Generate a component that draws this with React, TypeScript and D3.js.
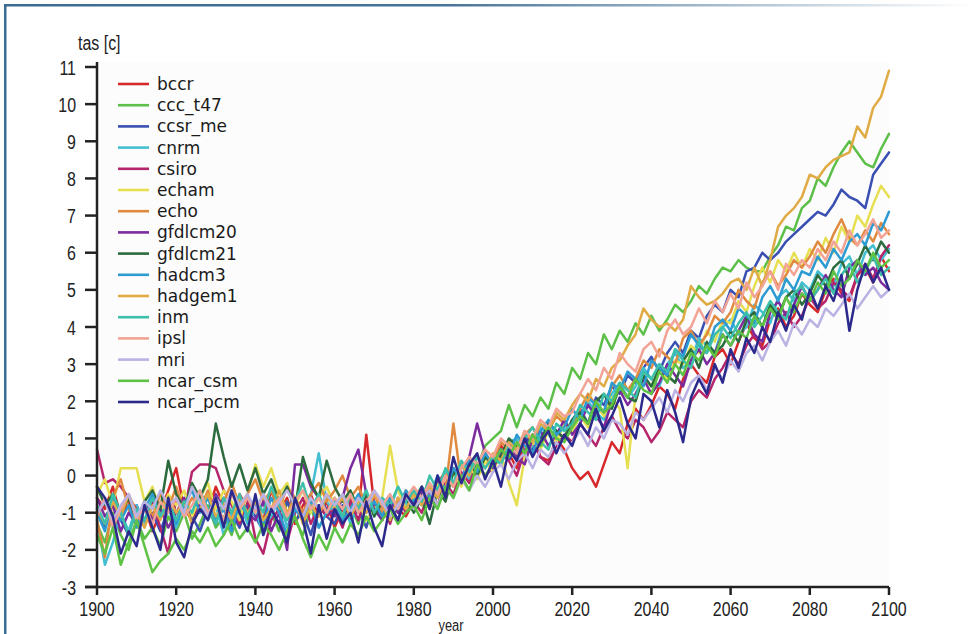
import React from 'react';
import * as d3 from 'd3';

// one value every 2 years, 1900..2100
const YEARS = d3.range(1900, 2101, 2);
const Y_TICKS = [-3, -2, -1, 0, 1, 2, 3, 4, 5, 6, 7, 8, 9, 10, 11];
const X_TICKS = [1900, 1920, 1940, 1960, 1980, 2000, 2020, 2040, 2060, 2080, 2100];

const bccr = [
  -0.6, -0.9, -0.3, -1.1, -0.7, -1.3, -0.8, -1.5, -1.0, -0.4,
  0.2, -0.9, -1.2, -0.6, -1.0, -0.3, -0.8, -1.1, -0.5, -0.9,
  -0.7, -1.2, -0.4, -1.0, -0.6, -1.3, -0.8, -0.5, -1.1, -0.7,
  -1.4, -0.9, -0.6, -1.0, 1.1, -0.8, -1.2, -0.6, -0.9, -1.1,
  -0.7, -0.4, -0.9, -0.2, 0.1, -0.3, 0.2, 0.4, 0.1, 0.6,
  0.3, 0.8, 0.6, 0.2, 0.9, 1.1, 0.5, 0.4, 1.0, 0.7,
  0.2, -0.1, 0.1, -0.3, 0.3, 0.9, 0.6, 1.4, 1.8, 1.5,
  1.9, 2.4, 2.2, 1.8, 2.6, 3.0, 2.7, 2.5, 3.2, 3.4,
  3.0, 3.6, 4.1, 3.7, 3.5, 4.2, 4.5, 4.0, 4.3, 4.9,
  4.6, 4.4, 5.0, 5.3, 4.9, 4.7, 5.4, 5.6, 5.2, 5.9,
  5.5,
];

const ccc_t47 = [
  -1.3, -1.8, -1.0, -1.6, -2.0, -1.2, -1.7, -1.4, -1.9, -1.1,
  -1.5, -1.0, -1.7, -1.3, -0.8, -1.4, -1.1, -1.6, -0.9, -1.2,
  -0.8, -1.3, -1.0, -1.5, -0.7, -1.2, -1.6, -0.9, -1.4, -1.0,
  -0.6, -1.1, -0.8, -1.3, -0.5, -0.9, -1.2, -0.7, -1.0, -0.6,
  -0.9, -0.5, -0.8, -0.2, -0.4, 0.1, -0.1, 0.4, 0.2, 0.8,
  1.0, 1.2, 1.9, 1.3, 1.9, 1.6, 2.1, 1.8, 2.5, 2.2,
  2.9, 2.6, 3.3, 3.0, 3.8, 3.4, 3.9, 3.6, 4.1, 3.8,
  4.3, 3.9, 4.2, 4.6, 4.4, 4.7, 5.1, 4.9, 5.3, 5.6,
  5.5, 5.8, 5.6, 5.5, 5.5, 5.9, 6.2, 6.7, 6.6, 7.2,
  7.4, 8.0, 7.8, 8.3, 8.7, 9.0, 8.7, 8.4, 8.3, 8.8,
  9.2,
];

const ccsr_me = [
  -0.9, -1.4, -0.7, -1.2, -1.6, -0.8, -1.3, -1.0, -1.5, -0.9,
  -1.2, -0.7, -1.1, -1.5, -0.9, -1.3, -0.6, -1.0, -1.4, -0.8,
  -1.1, -1.5, -0.9, -1.3, -0.7, -1.2, -1.0, -1.6, -0.8, -1.1,
  -1.3, -0.8, -1.2, -0.9, -1.4, -0.7, -1.1, -0.8, -1.2, -0.6,
  -0.9, -0.5, -0.7, -0.1, -0.4, 0.2, -0.2, 0.3, 0.0, 0.5,
  0.3, 0.7, 0.4, 0.8, 1.1, 0.7, 1.0, 1.4, 1.2, 1.0,
  1.5, 1.8, 1.4, 2.1, 1.9, 2.4, 2.2, 2.7, 2.5, 2.9,
  3.2, 2.8, 3.3, 3.6, 3.3, 3.9, 3.7, 4.3, 4.6, 4.4,
  5.0, 4.8, 5.5, 5.6, 6.0, 5.8, 6.0, 6.3, 6.5, 6.7,
  6.9, 7.1, 7.0, 7.3, 7.7, 7.5, 7.4, 7.2, 8.1, 8.4,
  8.7,
];

const cnrm = [
  -1.2, -2.4, -1.8, -1.0, -1.5, -0.8, -1.3, -0.6, -1.1, -0.9,
  -1.4, -0.7, -1.0, -0.5, -1.2, -0.8, -1.6, -1.0, -0.7, -1.3,
  -0.9, -1.6, -1.1, -0.6, -1.4, -0.8, -1.2, -0.5, 0.6, -0.7,
  -1.0, -0.6, -1.3, -0.8, -0.4, -1.1, -0.7, -0.9, -0.3, -0.8,
  -0.5, -0.8, -0.2, -0.6, 0.1, -0.3, 0.3, -0.1, 0.5, 0.2,
  0.5, 0.3, 0.9, 1.0, 0.6, 0.8, 1.3, 1.1, 0.9, 1.5,
  1.2, 1.6, 2.0, 1.7, 1.5, 2.2, 2.5, 2.1, 2.4, 2.9,
  2.6, 2.4, 3.0, 3.3, 2.9, 3.1, 3.7, 3.5, 3.3, 4.0,
  4.2, 3.8, 4.0, 4.6, 4.4, 4.1, 4.8, 5.0, 4.7, 5.2,
  5.0, 5.5, 5.3, 5.1, 5.7, 5.9, 5.4, 6.0, 6.2, 5.8,
  6.1,
];

const csiro = [
  0.7, -0.2, -0.1, -0.3, -0.6, -0.9, -1.2, -0.7, -1.4, -2.1,
  -0.6, -1.0, 0.1, 0.3, 0.3, 0.2, -0.4, -0.8, -1.3, -0.6,
  -1.7, -2.1, -1.2, -0.9, -1.8, -1.0, -0.6, -1.3, -0.8, -1.1,
  -0.9, -1.4, -0.7, -1.2, -0.5, -1.0, -0.8, -1.3, -0.6, -1.0,
  -0.7, -1.0, -0.4, -0.8, -0.2, -0.5, 0.1, -0.2, 0.3, 0.0,
  0.2, 0.6, 0.4, 0.0, 0.7, 0.9, 0.5, 0.3, 0.8, 1.1,
  0.9, 1.4, 1.1, 0.8, 1.3, 1.6, 1.2, 1.0, 1.5, 1.3,
  0.9, 1.2, 1.7, 1.5, 1.3, 2.0, 2.3, 2.1, 2.6, 2.9,
  3.3, 3.0, 3.5, 3.8, 3.4, 3.6, 4.1, 4.4, 4.0, 4.3,
  4.8, 4.5, 4.7, 5.2, 5.0, 4.8, 5.4, 5.7, 5.3, 5.9,
  6.2,
];

const echam = [
  -0.5, -0.1, -0.8, 0.2, 0.2, 0.2, -0.7, -0.3, -1.0, -0.5,
  -0.8, -0.4, -1.1, -0.6, -0.2, -0.9, -0.4, -0.7, -1.2, -0.5,
  0.3, -0.3, 0.2, -0.5, -0.2, -0.8, -0.4, -1.0, -0.6, -0.3,
  -0.8, -0.5, -1.0, -0.7, -1.2, -0.9, -0.6, 0.8, -0.4, -0.9,
  -0.6, -0.3, -0.8, -0.2, -0.5, 0.1, -0.3, 0.3, -0.1, 0.4,
  0.1, 0.6, -0.2, -0.8, 0.5, 0.9, 0.7, 1.2, 0.9, 1.4,
  1.2, 1.6, 1.3, 1.9, 1.6, 2.1, 1.8, 0.2, 2.2, 2.6,
  2.4, 2.9, 2.6, 3.1, 3.0, 3.5, 3.3, 3.9, 3.6, 4.2,
  4.1, 4.7, 4.4, 5.1, 5.6, 5.2, 5.8, 5.5, 6.0, 5.6,
  6.1, 5.8, 6.4, 6.0, 6.7, 6.3, 7.0, 6.7, 7.3, 7.8,
  7.5,
];

const echo = [
  -1.2, -2.2, -0.6, -0.1, -0.9, -1.4, -0.7, -1.1, -0.5, -0.9,
  -0.3, -1.0, -0.6, -0.9, -0.4, -1.2, -0.7, -0.2, -0.8, -0.5,
  -0.1, -0.7, -0.4, -0.9, -0.3, -0.6, -1.0, -0.5, -0.2, -0.7,
  -0.4, 0.0, -0.6, -0.3, -0.8, -0.5, -1.0, -0.6, -0.9, -0.4,
  -0.7, -0.3, -0.6, -0.1, -0.4, 1.4, -0.2, 0.3, 0.1, 0.5,
  0.4, 0.9, 0.7, 0.5, 1.1, 1.3, 0.9, 1.2, 1.6, 1.4,
  1.3, 1.8, 2.2, 1.9, 1.7, 2.4, 2.7, 2.3, 2.6, 3.1,
  2.9, 3.4, 3.2, 3.0, 3.7, 3.9, 3.5, 3.8, 4.3, 4.1,
  4.4, 5.0, 4.7, 4.5, 5.2, 5.5, 5.1, 5.4, 5.8, 5.6,
  5.9, 6.3, 6.0, 6.5, 6.9, 6.4, 6.2, 6.6, 6.3, 6.8,
  6.5,
];

const gfdlcm20 = [
  -0.6, -1.1, -0.8, -1.5, -1.0, -1.3, -0.7, -1.2, -0.9, -1.4,
  -1.0, -0.6, -1.3, -0.8, -1.1, -0.5, -0.9, -1.4, -0.7, -1.0,
  -1.2, -0.7, -1.5, -1.0, -2.0, 0.3, 0.3, -0.3, -0.6, -0.9,
  -1.1, -0.6, 0.2, 0.7, -0.5, -0.9, -1.2, -0.7, -1.0, -0.6,
  -0.8, -0.4, -0.7, -0.1, -0.5, 0.2, -0.2, 0.5, 1.4, 0.6,
  0.2, 0.6, 0.9, 0.5, 0.3, 1.0, 1.2, 0.8, 1.1, 1.5,
  1.1, 1.4, 1.9, 1.6, 1.3, 2.0, 2.3, 1.9, 2.2, 2.6,
  2.2, 2.5, 3.0, 2.7, 2.4, 3.1, 3.4, 3.0, 3.3, 3.8,
  3.5, 3.9, 4.3, 3.8, 3.6, 4.4, 4.7, 4.3, 4.6, 5.1,
  4.7, 5.0, 5.4, 5.0, 4.8, 5.6, 5.8, 5.4, 5.6, 5.2,
  5.0,
];

const gfdlcm21 = [
  -0.3, -0.8, -0.5, -1.0, -0.6, -1.2, -0.7, -0.4, -0.9, 0.4,
  -0.5, -0.9, -0.2, -0.6, -0.1, 1.4, 0.5, -0.3, 0.3, -0.4,
  0.2, -0.5, -0.1, -0.7, -0.3, -0.9, 0.5, -0.2, -0.6, 0.4,
  -0.3, -0.7, -0.4, -0.9, -0.5, -1.1, -0.7, -1.2, -0.8, -0.6,
  -1.0, -0.6, -1.3, -0.4, -0.7, 0.1, -0.2, 0.4, 0.0, 0.5,
  0.3, 0.5, 1.0, 0.8, 0.6, 1.1, 0.9, 1.4, 1.2, 1.0,
  1.5, 1.7, 1.4, 2.0, 2.2, 1.8, 2.4, 2.1, 2.0, 2.7,
  2.4, 2.9, 2.7, 2.5, 3.1, 3.4, 2.9, 3.6, 3.3, 3.5,
  3.9, 3.6, 4.2, 4.4, 4.0, 4.6, 4.3, 4.8, 5.0, 4.6,
  4.9, 5.4, 5.1, 5.6, 5.8, 5.3, 5.7, 6.2, 5.8, 6.3,
  6.0,
];

const hadcm3 = [
  -1.0, -1.5, -0.6, -1.2, -0.8, -1.4, -0.9, -0.5, -1.1, -0.7,
  -1.3, -0.8, -0.4, -1.0, -0.6, -1.2, -0.9, -1.5, -0.7, -1.1,
  -0.8, -1.3, -0.6, -1.0, -1.6, -0.9, -1.2, -0.7, -1.4, -1.0,
  -0.7, -1.2, -0.9, -0.5, -1.0, -0.7, -1.1, -0.6, -0.9, -0.4,
  -0.7, -0.3, -0.6, 0.0, -0.4, 0.2, -0.1, 0.4, 0.1, 0.6,
  0.3, 0.7, 0.5, 1.1, 0.8, 0.6, 1.2, 1.5, 1.1, 1.3,
  1.8, 1.5, 2.1, 1.9, 1.7, 2.5, 2.3, 2.8, 2.6, 2.4,
  3.1, 2.9, 2.7, 3.4, 3.2, 3.8, 3.5, 3.3, 4.0, 4.2,
  3.9, 4.5, 4.3, 4.1, 4.8, 5.1, 4.7, 5.3, 5.0, 5.5,
  5.4, 5.9, 5.6, 6.1, 5.8, 6.3, 6.5, 6.2, 6.8, 6.6,
  7.1,
];

const hadgem1 = [
  -0.9, -1.3, -0.7, -1.1, -0.5, -1.0, -1.4, -0.8, -1.2, -0.6,
  -1.0, -0.7, -1.3, -0.9, -0.5, -1.1, -0.8, -1.2, -0.6, -1.0,
  -0.7, -1.2, -0.9, -0.4, -1.0, -0.6, -1.3, -0.8, -1.1, -0.5,
  -0.9, -0.6, -1.1, -0.7, -1.0, -0.5, -0.8, -1.2, -0.6, -0.9,
  -0.5, -0.8, -0.3, -0.6, 0.0, -0.3, 0.3, 0.0, 0.5, 0.2,
  0.6, 0.4, 0.9, 0.7, 1.2, 0.9, 1.4, 1.2, 1.7, 1.5,
  1.9, 2.2, 2.0, 2.6, 2.4, 2.9, 3.1, 3.5, 3.8, 4.5,
  4.2, 4.0, 4.1, 3.9, 4.2, 5.1, 4.8, 4.6, 4.7, 4.9,
  5.2, 5.3, 5.0, 5.6, 5.1, 5.8, 6.7, 7.0, 7.2, 7.5,
  8.1, 8.0, 8.3, 8.5, 8.6, 8.7, 9.4, 9.1, 9.9, 10.2,
  10.9,
];

const inm = [
  -0.8, -1.3, -0.5, -1.0, -1.6, -0.9, -1.2, -0.6, -1.1, -0.7,
  -1.2, -0.7, -1.0, -0.4, -0.9, -1.3, -0.6, -1.0, -0.5, -1.1,
  -0.6, -1.0, -0.3, -0.8, -1.2, -0.7, -0.2, -0.9, -0.5, -1.0,
  -0.7, -1.1, -0.5, -0.9, -0.4, -1.0, -0.6, -0.8, -0.3, -0.7,
  -0.4, -0.7, 0.0, -0.4, 0.2, -0.2, 0.4, 0.1, 0.5, 0.2,
  0.5, 0.3, 0.8, 0.6, 1.0, 1.3, 0.9, 0.7, 1.4, 1.2,
  1.4, 1.9, 1.7, 1.5, 2.2, 2.0, 2.5, 2.3, 2.1, 2.8,
  2.6, 3.0, 2.8, 3.4, 3.1, 2.9, 3.6, 3.3, 3.8, 4.0,
  3.7, 4.1, 4.4, 4.0, 4.3, 4.7, 4.4, 4.2, 4.9, 5.1,
  4.7, 5.0, 5.3, 4.9, 5.4, 5.7, 5.2, 5.5, 5.9, 5.4,
  5.6,
];

const ipsl = [
  -1.1, -0.6, -1.4, -0.9, -0.5, -1.2, -0.8, -1.3, -0.7, -1.0,
  -0.6, -1.1, -0.8, -0.4, -1.0, -0.7, -1.2, -0.5, -0.9, -0.6,
  -1.0, -0.5, -0.9, -0.6, -1.1, -0.7, -0.4, -0.9, -0.6, -1.0,
  -0.6, -0.9, -0.5, -1.0, -0.7, -0.4, -0.8, -0.5, -0.9, -0.6,
  -0.3, -0.6, -0.2, -0.5, 0.0, -0.3, 0.2, 0.5, 0.3, 0.7,
  0.5, 1.0, 0.8, 0.6, 1.2, 1.0, 1.5, 1.3, 1.8, 1.6,
  1.7, 2.2, 2.6, 2.3, 2.9, 2.6, 3.3, 3.0, 2.8, 3.4,
  3.6, 3.2, 3.9, 4.2, 3.8, 4.0, 4.5, 4.1, 4.7, 4.4,
  4.9, 4.5, 5.2, 4.8, 5.1, 5.5, 5.0, 5.7, 5.4, 5.8,
  5.6, 6.1, 5.8, 6.3, 6.0, 6.6, 6.2, 6.5, 6.9, 6.4,
  6.6,
];

const mri = [
  -1.0, -0.7, -1.2, -0.8, -0.5, -1.1, -0.7, -0.9, -0.4, -0.8,
  -0.6, -1.0, -0.3, -0.7, -1.1, -0.6, -0.9, -0.4, -0.8, -0.5,
  -0.9, -0.5, -1.0, -0.7, -0.4, -0.8, -1.1, -0.6, -0.9, -0.5,
  -0.8, -0.5, -1.0, -0.6, -0.9, -0.4, -0.7, -1.1, -0.8, -0.5,
  -0.9, -0.6, -0.4, -0.8, -0.3, -0.6, -0.1, -0.4, 0.0, -0.3,
  0.1, 0.3, -0.1, 0.4, 0.6, 0.2, 0.7, 0.5, 0.9, 0.6,
  0.9, 1.2, 0.8, 1.3, 1.0, 1.5, 1.4, 1.1, 1.7, 1.5,
  1.8, 2.1, 1.7, 2.3, 2.0, 2.5, 2.7, 2.3, 2.9, 2.6,
  3.1, 2.8, 3.3, 3.5, 3.1, 3.6, 3.9, 3.5, 4.1, 3.8,
  4.2, 4.0, 4.5, 4.3, 4.6, 4.9, 4.5, 4.8, 5.1, 4.8,
  5.0,
];

const ncar_csm = [
  -1.6, -2.1, -1.4, -2.4, -1.8, -1.2, -1.9, -2.6, -2.3, -2.1,
  -1.7, -2.0, -1.5, -1.8, -1.4, -1.9, -1.6, -1.2, -1.7, -1.4,
  -1.8, -1.3, -1.6, -2.0, -1.5, -1.1, -1.7, -2.2, -1.6, -2.0,
  -1.4, -1.8, -1.3, -1.6, -1.1, -1.5, -1.2, -0.9, -1.3, -1.0,
  -0.8, -1.2, -0.6, -0.9, -0.3, -0.6, 0.0, -0.4, 0.3, 0.0,
  0.3, 0.7, 0.5, 0.9, 0.6, 1.1, 0.8, 1.3, 1.0, 0.9,
  1.3, 1.6, 1.4, 2.0, 1.7, 1.9, 2.4, 2.1, 2.6, 2.3,
  2.2, 2.8, 2.5, 3.0, 2.7, 3.3, 3.1, 3.5, 3.2, 3.8,
  3.5, 3.9, 3.7, 4.3, 4.0, 4.5, 4.2, 4.8, 4.4, 4.9,
  4.7, 5.2, 4.9, 5.5, 5.1, 5.3, 5.8, 5.5, 6.0, 5.6,
  5.8,
];

const ncar_pcm = [
  -0.3, -0.6, -1.1, -2.1, -1.5, -1.9, -0.8, -1.4, -2.0, -0.6,
  -1.8, -2.2, -1.3, -0.9, -1.2, -0.6, -1.4, -0.4, -1.0, -1.5,
  -0.5, -1.6, -0.9, -1.3, -1.8, -0.6, -1.2, -2.1, -0.8, -1.7,
  -0.9, -1.3, -1.0, -1.8, -0.7, -1.4, -1.9, -0.8, -1.2, -0.5,
  -0.8, -0.3, -0.9, 0.0, -0.6, 0.5, -0.2, 0.3, 0.6, -0.1,
  0.4, -0.3, 0.7, 0.4, 1.0, 0.5, 0.9, 1.2, 0.6, 1.1,
  0.8, 1.4, 1.1, 1.8, 1.2, 1.6, 2.1, 1.4, 1.0, 2.2,
  2.0, 1.3, 2.3, 1.7, 0.9, 2.1, 2.6, 2.2, 3.0, 2.5,
  3.4, 2.9, 3.7, 3.3, 4.0, 3.6, 4.4, 3.9, 4.6, 4.2,
  5.0, 4.5, 5.1, 4.7, 5.4, 3.9, 5.0, 5.7, 5.2, 5.6,
  5.0,
];

const SERIES = [
  { name: 'bccr', color: '#d7282c', values: bccr },
  { name: 'ccc_t47', color: '#5cbf48', values: ccc_t47 },
  { name: 'ccsr_me', color: '#3a4fb2', values: ccsr_me },
  { name: 'cnrm', color: '#44bfd2', values: cnrm },
  { name: 'csiro', color: '#b5256b', values: csiro },
  { name: 'echam', color: '#e6df52', values: echam },
  { name: 'echo', color: '#e08a40', values: echo },
  { name: 'gfdlcm20', color: '#7b2b9e', values: gfdlcm20 },
  { name: 'gfdlcm21', color: '#2b6b3d', values: gfdlcm21 },
  { name: 'hadcm3', color: '#2d9bd2', values: hadcm3 },
  { name: 'hadgem1', color: '#e0aa45', values: hadgem1 },
  { name: 'inm', color: '#3cc0aa', values: inm },
  { name: 'ipsl', color: '#f2a396', values: ipsl },
  { name: 'mri', color: '#bab2e2', values: mri },
  { name: 'ncar_csm', color: '#5ec244', values: ncar_csm },
  { name: 'ncar_pcm', color: '#2b2a8c', values: ncar_pcm },
];

const TICK_FONT = '"Liberation Sans", Arimo, sans-serif';
const LEGEND_FONT = '"DejaVu Sans", Verdana, sans-serif';
const NARROW = 0.76; // horizontal squeeze for the condensed tick face
const TICK_SIZE = 21;

export default function App() {
  const width = 974;
  const height = 634;
  const x = d3.scaleLinear().domain([1900, 2100]).range([97, 889]);
  const y = d3.scaleLinear().domain([-3, 11]).range([587, 67]);
  const line = d3
    .line<number>()
    .x((_, i) => x(YEARS[i]))
    .y((d) => y(d));

  const axisColor = '#222';

  return (
    <svg
      width={width}
      height={height}
      style={{ position: 'absolute', left: 0, top: 0, display: 'block', background: '#fff' }}
    >
      <defs>
        <linearGradient id="topFade" x1="0" x2="1" y1="0" y2="0">
          <stop offset="0%" stopColor="#3d6c92" stopOpacity={1} />
          <stop offset="45%" stopColor="#3d6c92" stopOpacity={0.95} />
          <stop offset="100%" stopColor="#3d6c92" stopOpacity={0} />
        </linearGradient>
      </defs>

      {/* page frame */}
      <rect x={4} y={4} width={width - 4} height={2.5} fill="url(#topFade)" />
      <rect x={4} y={4} width={2.5} height={height - 4} fill="#3d6c92" />

      <rect x={x(1900)} y={y(11) - 5} width={x(2100) - x(1900)} height={y(-3) - y(11) + 5} fill="#fcfcfc" />

      {/* series */}
      <g fill="none" strokeWidth={2.5} strokeLinejoin="round" strokeLinecap="round">
        {SERIES.map((s) => (
          <path key={s.name} d={line(s.values) || ''} stroke={s.color} />
        ))}
      </g>

      {/* y axis */}
      <line x1={x(1900)} x2={x(1900)} y1={y(11) - 5} y2={y(-3)} stroke={axisColor} strokeWidth={2.5} />
      {Y_TICKS.map((t) => (
        <g key={t} transform={`translate(0,${y(t)})`}>
          <line x1={x(1900) - 12} x2={x(1900)} stroke={axisColor} strokeWidth={2.5} />
          <text
            transform={`translate(${x(1900) - 21},0) scale(${NARROW},1)`}
            dy="0.36em"
            textAnchor="end"
            fontFamily={TICK_FONT}
            fontSize={TICK_SIZE}
            fill="#222"
          >
            {t}
          </text>
        </g>
      ))}

      {/* x axis */}
      <line x1={x(1900) - 12} x2={x(2100)} y1={y(-3)} y2={y(-3)} stroke={axisColor} strokeWidth={2.5} />
      {X_TICKS.map((t) => (
        <g key={t} transform={`translate(${x(t)},${y(-3)})`}>
          <line y1={0} y2={8} stroke={axisColor} strokeWidth={2.5} />
          <text
            transform={`translate(0,29) scale(${NARROW},1)`}
            textAnchor="middle"
            fontFamily={TICK_FONT}
            fontSize={TICK_SIZE}
            fill="#222"
          >
            {t}
          </text>
        </g>
      ))}

      <text transform={`translate(78,50) scale(${NARROW},1)`} fontFamily={TICK_FONT} fontSize={TICK_SIZE} fill="#222">
        tas [c]
      </text>
      <text
        transform={`translate(451,631) scale(${NARROW},1)`}
        textAnchor="middle"
        fontFamily={TICK_FONT}
        fontSize={17}
        fill="#222"
      >
        year
      </text>

      {/* legend */}
      <g transform="translate(118,84)">
        {SERIES.map((s, i) => (
          <g key={s.name} transform={`translate(0,${i * 21.2})`}>
            <line x1={0} x2={31} stroke={s.color} strokeWidth={2.6} />
            <text x={39} dy="0.35em" fontFamily={LEGEND_FONT} fontSize={17} fill="#1a1a1a">
              {s.name}
            </text>
          </g>
        ))}
      </g>
    </svg>
  );
}
